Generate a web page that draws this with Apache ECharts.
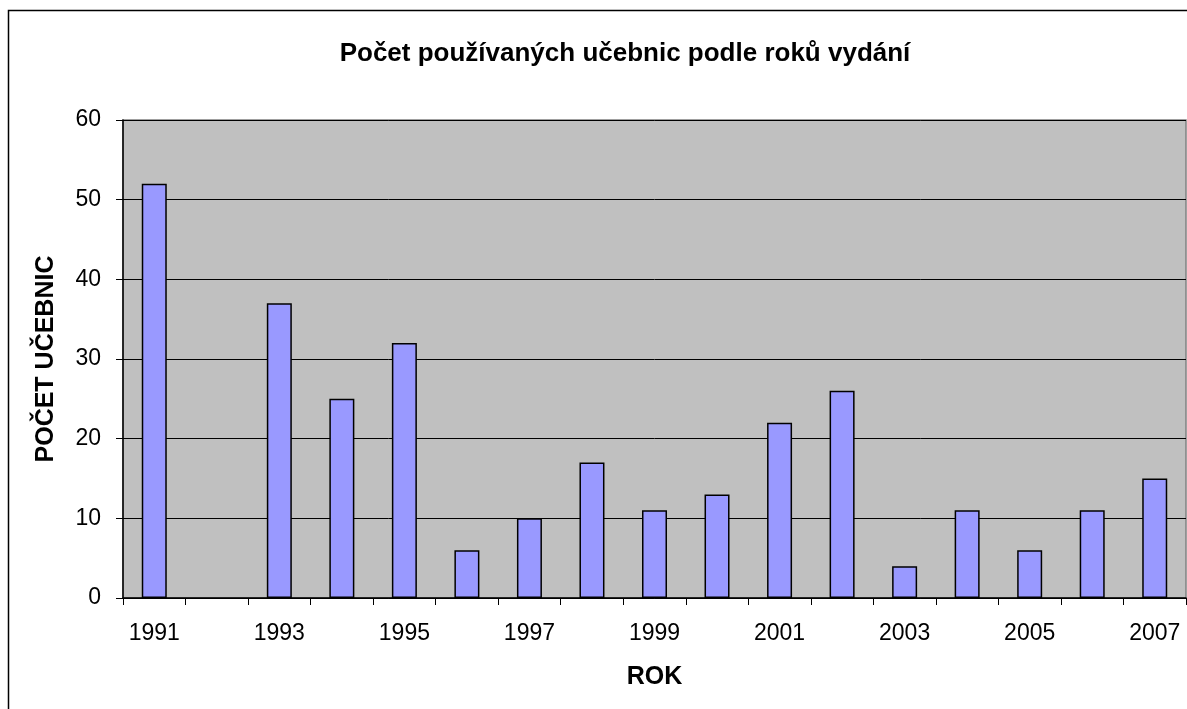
<!DOCTYPE html>
<html>
<head>
<meta charset="utf-8">
<script src="https://cdn.jsdelivr.net/npm/echarts@6/dist/echarts.min.js"></script>
<style>
  html, body { margin: 0; padding: 0; background: #ffffff; }
  #chart { width: 1187px; height: 709px; }
</style>
</head>
<body>
<div id="chart"></div>
<script>
const years = ['1991', '1992', '1993', '1994', '1995', '1996', '1997', '1998', '1999',
  '2000', '2001', '2002', '2003', '2004', '2005', '2006', '2007']
const bookCounts = [52, 0, 37, 25, 32, 6, 10, 17, 11, 13, 22, 26, 4, 11, 6, 11, 15]
const yTicks = [0, 10, 20, 30, 40, 50, 60]

const font = '"Liberation Sans", Arial, sans-serif'
const chart = echarts.init(document.getElementById('chart'))

// an empty year gets no outline, like in the original spreadsheet chart
const barData = bookCounts.map((v) => (v === 0 ? { value: v, itemStyle: { borderWidth: 0 } } : v))

chart.setOption({
  backgroundColor: '#ffffff',
  animation: false,
  textStyle: { fontFamily: font, color: '#000' },
  title: {
    text: 'Počet používaných učebnic podle roků vydání',
    left: 620,
    textAlign: 'center',
    top: 36,
    textStyle: { fontFamily: font, fontSize: 26, fontWeight: 'bold', color: '#000' },
  },
  graphic: [
    {
      type: 'rect',
      shape: { x: 8.5, y: 10.5, width: 1300, height: 800 },
      style: { fill: null, stroke: '#000', lineWidth: 1.5 },
      silent: true,
    },
  ],
  grid: {
    left: 123, top: 120, right: 1, bottom: 111,
    show: true, backgroundColor: '#c0c0c0', borderColor: '#808080', borderWidth: 1.5,
  },
  xAxis: {
    type: 'category',
    data: years,
    name: 'ROK',
    nameLocation: 'middle',
    nameGap: 67,
    nameTextStyle: { fontFamily: font, fontSize: 25, fontWeight: 'bold', color: '#000' },
    axisLine: { lineStyle: { color: '#000', width: 1.5 } },
    axisTick: { show: true, length: 7, interval: 0, lineStyle: { color: '#000' } },
    axisLabel: { interval: 1, margin: 24, fontSize: 23, color: '#000', fontFamily: font },
  },
  yAxis: {
    type: 'value',
    min: yTicks[0],
    max: yTicks[yTicks.length - 1],
    interval: 10,
    name: 'POČET UČEBNIC',
    nameLocation: 'middle',
    nameGap: 64,
    nameTextStyle: { fontFamily: font, fontSize: 25, fontWeight: 'bold', color: '#000' },
    axisLine: { show: true, lineStyle: { color: '#000', width: 1.5 } },
    axisTick: { show: true, length: 7, lineStyle: { color: '#000' } },
    axisLabel: { margin: 22, fontSize: 23, color: '#000', fontFamily: font },
    splitLine: { show: true, lineStyle: { color: '#000', width: 1 } },
  },
  series: [
    {
      type: 'bar',
      data: barData,
      barWidth: 25,
      itemStyle: { color: '#9999ff', borderColor: '#000', borderWidth: 1.5 },
    },
  ],
})
</script>
</body>
</html>
